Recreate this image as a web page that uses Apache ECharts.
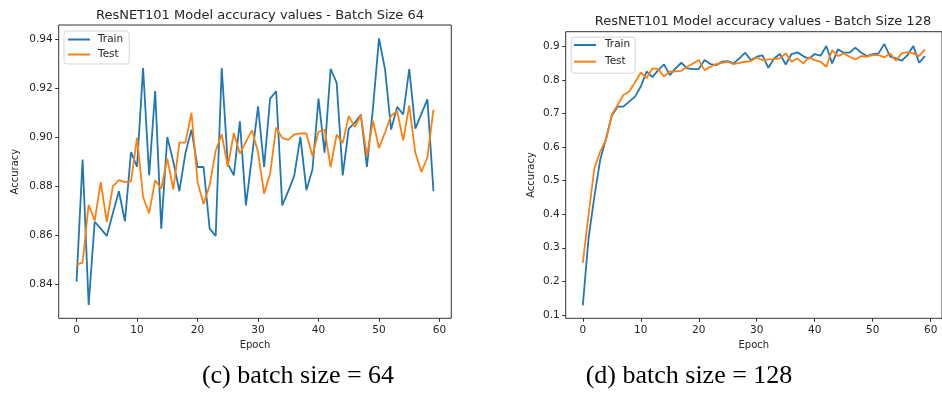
<!DOCTYPE html>
<html>
<head>
<meta charset="utf-8">
<script src="https://cdn.jsdelivr.net/npm/echarts@6/dist/echarts.min.js"></script>
<style>
  html, body { margin: 0; padding: 0; background: #fff; }
  #chart { width: 942px; height: 394px; }
</style>
</head>
<body>
<div id="chart"></div>
<script>
// epochs 0..59
const epochs = Array.from({ length: 60 }, (_, i) => i);

// batch size 64
const train64 = [0.841, 0.891, 0.8315, 0.8655, 0.8627, 0.8597, 0.869, 0.878, 0.8657, 0.894,
  0.888, 0.9284, 0.8845, 0.919, 0.8627, 0.9002, 0.890, 0.878, 0.8936, 0.9032,
  0.8879, 0.8879, 0.8627, 0.8597, 0.9284, 0.8893, 0.8845, 0.9066, 0.8722, 0.892,
  0.9127, 0.8879, 0.9159, 0.9189, 0.8722, 0.878, 0.8845, 0.9002, 0.8784, 0.887,
  0.9159, 0.8938, 0.9281, 0.9223, 0.8845, 0.9036, 0.906, 0.9093, 0.8879, 0.912,
  0.9405, 0.9278, 0.9032, 0.9125, 0.9094, 0.928, 0.9036, 0.9096, 0.9156, 0.878];
const test64 = [0.848, 0.8488, 0.8724, 0.866, 0.8817, 0.8654, 0.880, 0.8825, 0.8817, 0.882,
  0.8998, 0.8757, 0.8689, 0.8825, 0.879, 0.8913, 0.8787, 0.8979, 0.8979, 0.9101,
  0.8818, 0.8727, 0.8804, 0.8945, 0.9013, 0.888, 0.9018, 0.8934, 0.8982, 0.9029,
  0.894, 0.877, 0.8852, 0.904, 0.8998, 0.899, 0.9012, 0.9017, 0.9016, 0.8924,
  0.9023, 0.9032, 0.8879, 0.9012, 0.8977, 0.9087, 0.9043, 0.909, 0.8925, 0.9068,
  0.8957, 0.902, 0.909, 0.9107, 0.8988, 0.9131, 0.8938, 0.8859, 0.8918, 0.9114];

// batch size 128
const train128 = [0.128, 0.33, 0.453, 0.5625, 0.625, 0.694, 0.721, 0.721, 0.736, 0.751,
  0.781, 0.826, 0.809, 0.83, 0.847, 0.815, 0.835, 0.852, 0.835, 0.833,
  0.833, 0.86, 0.848, 0.845, 0.855, 0.857, 0.85, 0.865, 0.882, 0.86,
  0.87, 0.874, 0.837, 0.865, 0.878, 0.847, 0.878, 0.883, 0.872, 0.864,
  0.878, 0.873, 0.902, 0.85, 0.892, 0.882, 0.882, 0.897, 0.882, 0.872,
  0.878, 0.88, 0.908, 0.87, 0.865, 0.858, 0.875, 0.902, 0.852, 0.872];
const test128 = [0.255, 0.40, 0.538, 0.587, 0.622, 0.697, 0.726, 0.756, 0.766, 0.793,
  0.823, 0.806, 0.835, 0.833, 0.811, 0.826, 0.826, 0.828, 0.84, 0.85,
  0.86, 0.83, 0.84, 0.848, 0.852, 0.855, 0.848, 0.852, 0.855, 0.857,
  0.868, 0.86, 0.862, 0.863, 0.865, 0.88, 0.855, 0.865, 0.85, 0.868,
  0.86, 0.855, 0.84, 0.89, 0.872, 0.88, 0.87, 0.862, 0.872, 0.87,
  0.875, 0.875, 0.868, 0.88, 0.858, 0.88, 0.884, 0.88, 0.872, 0.892];

// tick labels
const xTicks = [0, 10, 20, 30, 40, 50, 60];
const yTicks64 = [0.84, 0.86, 0.88, 0.90, 0.92, 0.94];
const yTicks128 = [0.1, 0.2, 0.3, 0.4, 0.5, 0.6, 0.7, 0.8, 0.9];

const BLUE = '#1f77b4';
const ORANGE = '#ff7f0e';
const FONT = 'DejaVu Sans';
const TXT = '#262626';

const pairs = (vals) => epochs.map((e, i) => [e, vals[i]]);

function xAxisFor(gridIndex) {
  return {
    type: 'value',
    gridIndex,
    min: -2.95,
    max: 61.95,
    name: 'Epoch',
    nameLocation: 'middle',
    nameGap: 21,
    nameTextStyle: { fontFamily: FONT, fontSize: 10, color: TXT },
    axisLine: { show: false, onZero: false },
    splitLine: { show: false },
    axisTick: { show: true, inside: false, length: 3.5, customValues: xTicks, lineStyle: { color: '#333' } },
    axisLabel: { customValues: xTicks, fontFamily: FONT, fontSize: 10.5, color: TXT, margin: 6 },
  };
}

function yAxisFor(gridIndex, min, max, ticks, digits, gap) {
  return {
    type: 'value',
    gridIndex,
    min,
    max,
    name: 'Accuracy',
    nameLocation: 'middle',
    nameGap: gap,
    nameTextStyle: { fontFamily: FONT, fontSize: 10, color: TXT },
    axisLine: { show: false, onZero: false },
    splitLine: { show: false },
    axisTick: { show: true, inside: false, length: 3.5, customValues: ticks, lineStyle: { color: '#333' } },
    axisLabel: {
      customValues: ticks,
      fontFamily: FONT, fontSize: 10.5, color: TXT, margin: 6,
      formatter: (v) => v.toFixed(digits),
    },
  };
}

function lineSeries(name, vals, color, idx) {
  return {
    name,
    type: 'line',
    xAxisIndex: idx,
    yAxisIndex: idx,
    data: pairs(vals),
    symbol: 'none',
    lineStyle: { color, width: 1.8 },
    itemStyle: { color },
    animation: false,
  };
}

function legendFor(left, top) {
  return {
    orient: 'vertical',
    left,
    top,
    icon: 'rect',
    itemWidth: 22,
    itemHeight: 2,
    itemGap: 4,
    padding: [3, 6, 4, 4],
    borderColor: '#d6d6d6',
    borderWidth: 1,
    borderRadius: 3,
    textStyle: { fontFamily: FONT, fontSize: 10.5, color: TXT, padding: [0, 0, 0, 3] },
  };
}

const chart = echarts.init(document.getElementById('chart'));
chart.setOption({
  backgroundColor: '#fff',
  animation: false,
  title: [
    {
      text: 'ResNET101 Model accuracy values - Batch Size 64',
      left: 255, top: 4, textAlign: 'center',
      textStyle: { fontFamily: FONT, fontSize: 13, fontWeight: 'normal', color: TXT },
    },
    {
      text: 'ResNET101 Model accuracy values - Batch Size 128',
      left: 758, top: 10, textAlign: 'center',
      textStyle: { fontFamily: FONT, fontSize: 13, fontWeight: 'normal', color: TXT },
    },
  ],
  legend: [
    Object.assign(legendFor(64, 31), { data: [{ name: 'Train' }, { name: 'Test' }] }),
  ],
  grid: [
    { left: 58.7, top: 25, width: 392.6, height: 293.3, show: true, borderColor: '#333', borderWidth: 1, backgroundColor: 'transparent' },
    { left: 565.7, top: 31.7, width: 382.8, height: 286.6, show: true, borderColor: '#333', borderWidth: 1, backgroundColor: 'transparent' },
  ],
  xAxis: [xAxisFor(0), xAxisFor(1)],
  yAxis: [
    yAxisFor(0, 0.826, 0.946, yTicks64, 2, 38),
    yAxisFor(1, 0.0895, 0.9447, yTicks128, 1, 29),
  ],
  series: [
    lineSeries('Train', train64, BLUE, 0),
    lineSeries('Test', test64, ORANGE, 0),
    lineSeries('Train ', train128, BLUE, 1),
    lineSeries('Test ', test128, ORANGE, 1),
  ],
  graphic: [
    {
      type: 'group',
      children: [
        {
          type: 'rect', left: 570.7, top: 36.7,
          shape: { width: 64, height: 36, r: 3 },
          style: { fill: '#fff', stroke: '#d6d6d6', lineWidth: 1 },
        },
        { type: 'rect', left: 574, top: 44, shape: { width: 22, height: 2 }, style: { fill: BLUE } },
        { type: 'rect', left: 574, top: 60.7, shape: { width: 22, height: 2 }, style: { fill: ORANGE } },
        {
          type: 'text', left: 605, top: 39,
          style: { text: 'Train', font: '10.5px "DejaVu Sans"', fill: TXT },
        },
        {
          type: 'text', left: 605, top: 55.7,
          style: { text: 'Test', font: '10.5px "DejaVu Sans"', fill: TXT },
        },
      ],
    },
    {
      type: 'text', x: 298, y: 376,
      style: {
        text: '(c) batch size = 64', font: '26px "Liberation Serif"', fill: '#000',
        align: 'center', verticalAlign: 'middle',
      },
    },
    {
      type: 'text', x: 689, y: 376,
      style: {
        text: '(d) batch size = 128', font: '26px "Liberation Serif"', fill: '#000',
        align: 'center', verticalAlign: 'middle',
      },
    },
  ],
});
</script>
</body>
</html>
